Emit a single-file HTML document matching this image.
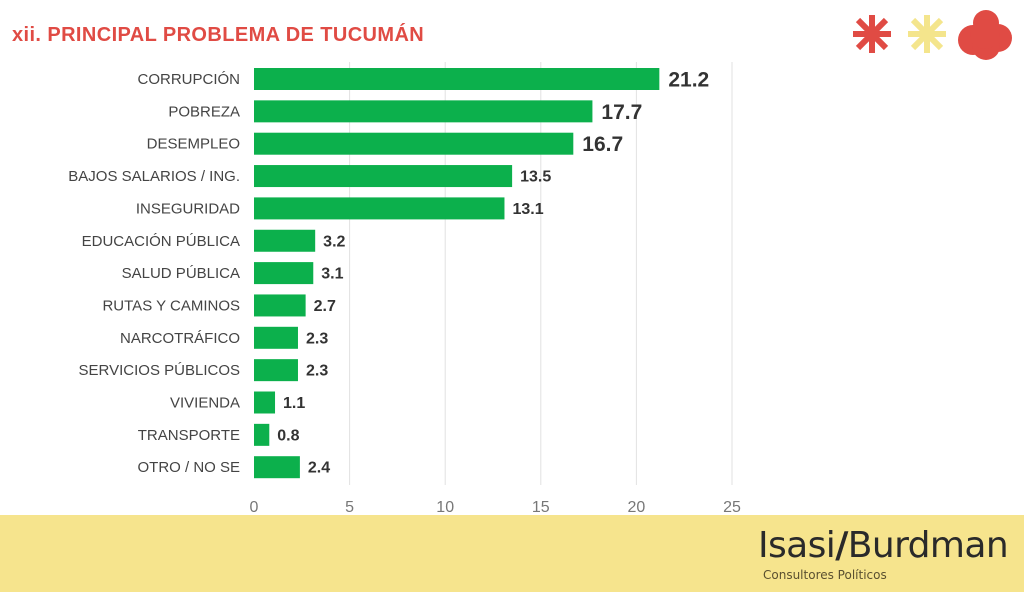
<!DOCTYPE html>
<html><head><meta charset="utf-8"><style>
body{margin:0;width:1024px;height:592px;background:#fff;overflow:hidden;position:relative;font-family:"Liberation Sans",sans-serif}
.t{position:absolute;left:12px;top:24px;font-weight:bold;font-size:20px;color:#e04b44;letter-spacing:0.4px}
.band{position:absolute;left:0;top:515px;width:1024px;height:77px;background:#f6e48d}
</style></head><body>
<div class="t">xii. PRINCIPAL PROBLEMA DE TUCUMÁN</div>
<svg width="1024" height="592" style="position:absolute;left:0;top:0">
<g stroke="#e2e2e2" stroke-width="1">
<line x1="349.6" y1="62" x2="349.6" y2="485"/><line x1="445.2" y1="62" x2="445.2" y2="485"/>
<line x1="540.8" y1="62" x2="540.8" y2="485"/><line x1="636.4" y1="62" x2="636.4" y2="485"/>
<line x1="732" y1="62" x2="732" y2="485"/></g>
<g font-family="Liberation Sans" font-size="16" fill="#777" text-anchor="middle">
<text x="254" y="512">0</text><text x="349.6" y="512">5</text><text x="445.2" y="512">10</text>
<text x="540.8" y="512">15</text><text x="636.4" y="512">20</text><text x="732" y="512">25</text></g>
<g id="bars" font-family="Liberation Sans"></g>
<g fill="#e04b44"><g transform="translate(872,34)" stroke="#e04b44" stroke-width="6">
<line x1="-19" y1="0" x2="19" y2="0"/><line x1="0" y1="-19" x2="0" y2="19"/><line x1="-14" y1="-14" x2="14" y2="14"/><line x1="-14" y1="14" x2="14" y2="-14"/></g>
<g transform="translate(927,34)" stroke="#f4e58c" stroke-width="6">
<line x1="-19" y1="0" x2="19" y2="0"/><line x1="0" y1="-19" x2="0" y2="19"/><line x1="-14" y1="-14" x2="14" y2="14"/><line x1="-14" y1="14" x2="14" y2="-14"/></g>
<circle cx="986" cy="23" r="13"/><circle cx="998" cy="38" r="14"/><circle cx="973" cy="40" r="15"/><circle cx="986" cy="46" r="14"/><circle cx="985" cy="34" r="15"/></g>
</svg>
<div class="band"></div>
<div style="position:absolute;left:758px;top:525px;font-size:36px;color:#2a2a2a;font-family:'DejaVu Sans',sans-serif;letter-spacing:-0.6px">Isasi<b>/</b>Burdman</div>
<div style="position:absolute;left:763px;top:568px;font-size:12px;color:#5a5030;font-family:'DejaVu Sans',sans-serif">Consultores Políticos</div>
<script>
var d=[["CORRUPCIÓN",21.2],["POBREZA",17.7],["DESEMPLEO",16.7],["BAJOS SALARIOS / ING.",13.5],["INSEGURIDAD",13.1],["EDUCACIÓN PÚBLICA",3.2],["SALUD PÚBLICA",3.1],["RUTAS Y CAMINOS",2.7],["NARCOTRÁFICO",2.3],["SERVICIOS PÚBLICOS",2.3],["VIVIENDA",1.1],["TRANSPORTE",0.8],["OTRO / NO SE",2.4]];
var s="";d.forEach(function(r,i){var y=79+i*32.35,w=r[1]*19.12,big=i<3;
s+='<rect x="254" y="'+(y-11)+'" width="'+w+'" height="22" fill="#0cb04c"/>';
s+='<text x="240" y="'+(y+5)+'" text-anchor="end" font-size="15" fill="#444">'+r[0]+'</text>';
s+='<text x="'+(254+w+(big?9:8))+'" y="'+(y+(big?7.5:5.5))+'" font-weight="bold" font-size="'+(big?21:16)+'" fill="#333">'+r[1].toFixed(1)+'</text>';});
document.getElementById("bars").innerHTML=s;
</script>
</body></html>
